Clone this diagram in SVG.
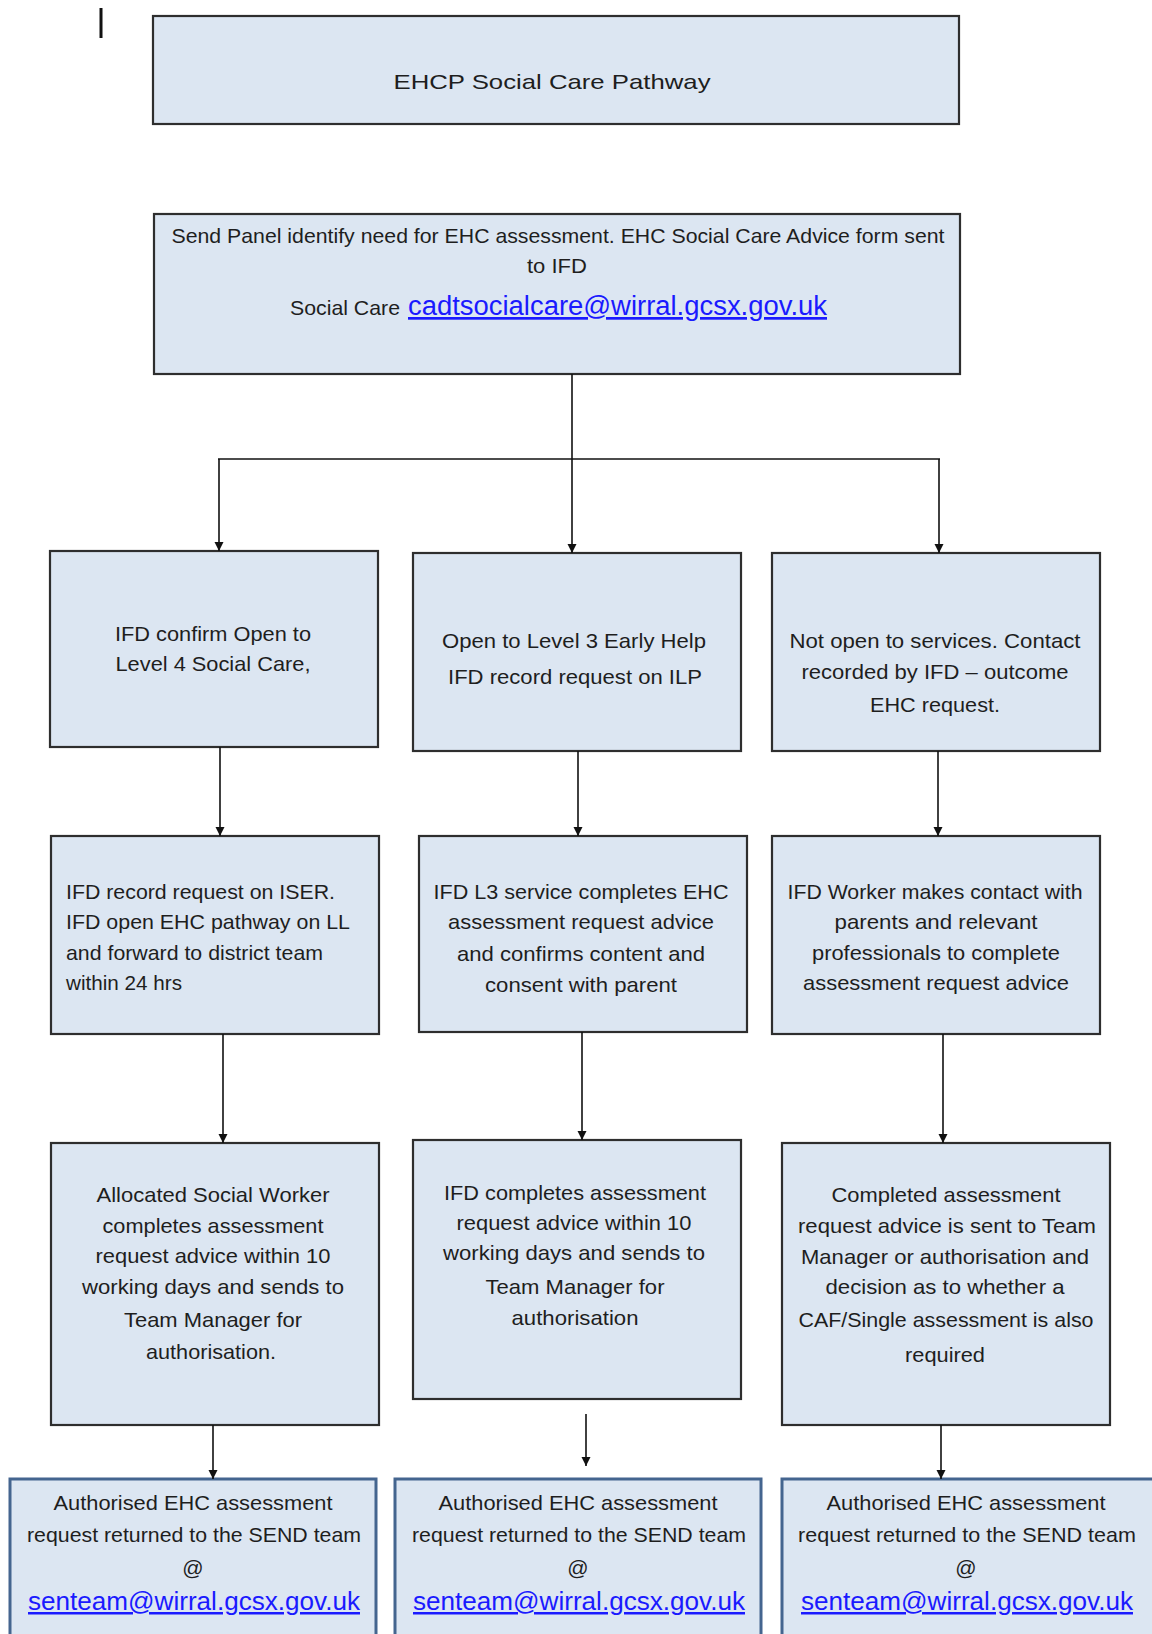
<svg xmlns="http://www.w3.org/2000/svg" width="1152" height="1634" viewBox="0 0 1152 1634">
<defs>
<marker id="ah" viewBox="0 0 10 10" refX="10" refY="5" markerWidth="9" markerHeight="11" markerUnits="userSpaceOnUse" orient="auto">
<path d="M0,0 L10,5 L0,10 z" fill="#111"/>
</marker>
</defs>
<style>
.box{fill:#dce6f2;stroke:#2e2e2e;stroke-width:2.2}
.out{fill:#dce6f2;stroke:#44658f;stroke-width:3}
.t{font-family:"Liberation Sans",Arial,sans-serif;font-size:21px;fill:#1e1e1e}
.c{text-anchor:middle}
.lnk{font-family:"Liberation Sans",Arial,sans-serif;fill:#1a1aff;text-decoration:underline}
.con line{stroke:#111;stroke-width:1.6;fill:none}
.con .a{marker-end:url(#ah)}
</style>
<rect x="99.5" y="8" width="3" height="30" fill="#111"/>

<g id="title">
<rect class="box" x="153" y="16" width="806" height="108"/>
<text class="t c" x="552" y="89" font-size="27" textLength="317" lengthAdjust="spacingAndGlyphs">EHCP Social Care Pathway</text>
</g>

<g id="panel">
<rect class="box" x="154" y="214" width="806" height="160"/>
<text class="t c" x="558" y="243" font-size="20" textLength="773" lengthAdjust="spacingAndGlyphs">Send Panel identify need for EHC assessment. EHC Social Care Advice form sent</text>
<text class="t c" x="557" y="273" font-size="20" textLength="60" lengthAdjust="spacingAndGlyphs">to IFD</text>
<text class="t" x="290" y="315" font-size="20" textLength="110" lengthAdjust="spacingAndGlyphs">Social Care</text>
<text class="lnk" x="408" y="315" font-size="27" textLength="419" lengthAdjust="spacingAndGlyphs">cadtsocialcare@wirral.gcsx.gov.uk</text>
</g>

<g id="confirm-l4">
<rect class="box" x="50" y="551" width="328" height="196"/>
<text class="t c" x="213" y="641" textLength="196" lengthAdjust="spacingAndGlyphs">IFD confirm Open to</text>
<text class="t c" x="213" y="671" textLength="195" lengthAdjust="spacingAndGlyphs">Level 4 Social Care,</text>
</g>

<g id="open-l3">
<rect class="box" x="413" y="553" width="328" height="198"/>
<text class="t c" x="574" y="648" textLength="264" lengthAdjust="spacingAndGlyphs">Open to Level 3 Early Help</text>
<text class="t c" x="575" y="684" textLength="254" lengthAdjust="spacingAndGlyphs">IFD record request on ILP</text>
</g>

<g id="not-open">
<rect class="box" x="772" y="553" width="328" height="198"/>
<text class="t c" x="935" y="648" textLength="291" lengthAdjust="spacingAndGlyphs">Not open to services. Contact</text>
<text class="t c" x="935" y="679" textLength="267" lengthAdjust="spacingAndGlyphs">recorded by IFD – outcome</text>
<text class="t c" x="935" y="712" textLength="130" lengthAdjust="spacingAndGlyphs">EHC request.</text>
</g>

<g id="record-iser">
<rect class="box" x="51" y="836" width="328" height="198"/>
<text class="t" x="66" y="899" textLength="269" lengthAdjust="spacingAndGlyphs">IFD record request on ISER.</text>
<text class="t" x="66" y="929" textLength="284" lengthAdjust="spacingAndGlyphs">IFD open EHC pathway on LL</text>
<text class="t" x="66" y="960" textLength="257" lengthAdjust="spacingAndGlyphs">and forward to district team</text>
<text class="t" x="66" y="990" textLength="116" lengthAdjust="spacingAndGlyphs">within 24 hrs</text>
</g>

<g id="l3-completes">
<rect class="box" x="419" y="836" width="328" height="196"/>
<text class="t c" x="581" y="899" textLength="295" lengthAdjust="spacingAndGlyphs">IFD L3 service completes EHC</text>
<text class="t c" x="581" y="929" textLength="266" lengthAdjust="spacingAndGlyphs">assessment request advice</text>
<text class="t c" x="581" y="961" textLength="248" lengthAdjust="spacingAndGlyphs">and confirms content and</text>
<text class="t c" x="581" y="992" textLength="192" lengthAdjust="spacingAndGlyphs">consent with parent</text>
</g>

<g id="worker-contact">
<rect class="box" x="772" y="836" width="328" height="198"/>
<text class="t c" x="935" y="899" textLength="295" lengthAdjust="spacingAndGlyphs">IFD Worker makes contact with</text>
<text class="t c" x="936" y="929" textLength="203" lengthAdjust="spacingAndGlyphs">parents and relevant</text>
<text class="t c" x="936" y="960" textLength="248" lengthAdjust="spacingAndGlyphs">professionals to complete</text>
<text class="t c" x="936" y="990" textLength="266" lengthAdjust="spacingAndGlyphs">assessment request advice</text>
</g>

<g id="allocated-sw">
<rect class="box" x="51" y="1143" width="328" height="282"/>
<text class="t c" x="213" y="1202" textLength="233" lengthAdjust="spacingAndGlyphs">Allocated Social Worker</text>
<text class="t c" x="213" y="1233" textLength="221" lengthAdjust="spacingAndGlyphs">completes assessment</text>
<text class="t c" x="213" y="1263" textLength="235" lengthAdjust="spacingAndGlyphs">request advice within 10</text>
<text class="t c" x="213" y="1294" textLength="262" lengthAdjust="spacingAndGlyphs">working days and sends to</text>
<text class="t c" x="213" y="1327" textLength="178" lengthAdjust="spacingAndGlyphs">Team Manager for</text>
<text class="t c" x="211" y="1359" textLength="130" lengthAdjust="spacingAndGlyphs">authorisation.</text>
</g>

<g id="ifd-completes">
<rect class="box" x="413" y="1140" width="328" height="259"/>
<text class="t c" x="575" y="1200" textLength="262" lengthAdjust="spacingAndGlyphs">IFD completes assessment</text>
<text class="t c" x="574" y="1230" textLength="235" lengthAdjust="spacingAndGlyphs">request advice within 10</text>
<text class="t c" x="574" y="1260" textLength="262" lengthAdjust="spacingAndGlyphs">working days and sends to</text>
<text class="t c" x="575" y="1294" textLength="179" lengthAdjust="spacingAndGlyphs">Team Manager for</text>
<text class="t c" x="575" y="1325" textLength="127" lengthAdjust="spacingAndGlyphs">authorisation</text>
</g>

<g id="completed-sent">
<rect class="box" x="782" y="1143" width="328" height="282"/>
<text class="t c" x="946" y="1202" textLength="229" lengthAdjust="spacingAndGlyphs">Completed assessment</text>
<text class="t c" x="947" y="1233" textLength="298" lengthAdjust="spacingAndGlyphs">request advice is sent to Team</text>
<text class="t c" x="945" y="1264" textLength="288" lengthAdjust="spacingAndGlyphs">Manager or authorisation and</text>
<text class="t c" x="945" y="1294" textLength="239" lengthAdjust="spacingAndGlyphs">decision as to whether a</text>
<text class="t c" x="946" y="1327" textLength="295" lengthAdjust="spacingAndGlyphs">CAF/Single assessment is also</text>
<text class="t c" x="945" y="1362" textLength="80" lengthAdjust="spacingAndGlyphs">required</text>
</g>

<g id="return-1">
<rect class="out" x="10" y="1479" width="366" height="170"/>
<text class="t c" x="193" y="1510" textLength="279" lengthAdjust="spacingAndGlyphs">Authorised EHC assessment</text>
<text class="t c" x="194" y="1542" textLength="334" lengthAdjust="spacingAndGlyphs">request returned to the SEND team</text>
<text class="t c" x="193" y="1575">@</text>
<text class="lnk c" x="194" y="1610" font-size="25" textLength="332" lengthAdjust="spacingAndGlyphs">senteam@wirral.gcsx.gov.uk</text>
</g>

<g id="return-2">
<rect class="out" x="395" y="1479" width="366" height="170"/>
<text class="t c" x="578" y="1510" textLength="279" lengthAdjust="spacingAndGlyphs">Authorised EHC assessment</text>
<text class="t c" x="579" y="1542" textLength="334" lengthAdjust="spacingAndGlyphs">request returned to the SEND team</text>
<text class="t c" x="578" y="1575">@</text>
<text class="lnk c" x="579" y="1610" font-size="25" textLength="332" lengthAdjust="spacingAndGlyphs">senteam@wirral.gcsx.gov.uk</text>
</g>

<g id="return-3">
<rect class="out" x="782" y="1479" width="374" height="170"/>
<text class="t c" x="966" y="1510" textLength="279" lengthAdjust="spacingAndGlyphs">Authorised EHC assessment</text>
<text class="t c" x="967" y="1542" textLength="338" lengthAdjust="spacingAndGlyphs">request returned to the SEND team</text>
<text class="t c" x="966" y="1575">@</text>
<text class="lnk c" x="967" y="1610" font-size="25" textLength="332" lengthAdjust="spacingAndGlyphs">senteam@wirral.gcsx.gov.uk</text>
</g>

<g id="connectors" class="con">
<line x1="572" y1="374" x2="572" y2="459"/>
<line x1="218" y1="459" x2="940" y2="459"/>
<line class="a" x1="219" y1="459" x2="219" y2="551"/>
<line class="a" x1="572" y1="459" x2="572" y2="553"/>
<line class="a" x1="939" y1="459" x2="939" y2="553"/>
<line class="a" x1="220" y1="747" x2="220" y2="836"/>
<line class="a" x1="578" y1="751" x2="578" y2="836"/>
<line class="a" x1="938" y1="751" x2="938" y2="836"/>
<line class="a" x1="223" y1="1034" x2="223" y2="1143"/>
<line class="a" x1="582" y1="1032" x2="582" y2="1140"/>
<line class="a" x1="943" y1="1034" x2="943" y2="1143"/>
<line class="a" x1="213" y1="1425" x2="213" y2="1479"/>
<line class="a" x1="586" y1="1414" x2="586" y2="1466"/>
<line class="a" x1="941" y1="1425" x2="941" y2="1479"/>
</g>
</svg>
